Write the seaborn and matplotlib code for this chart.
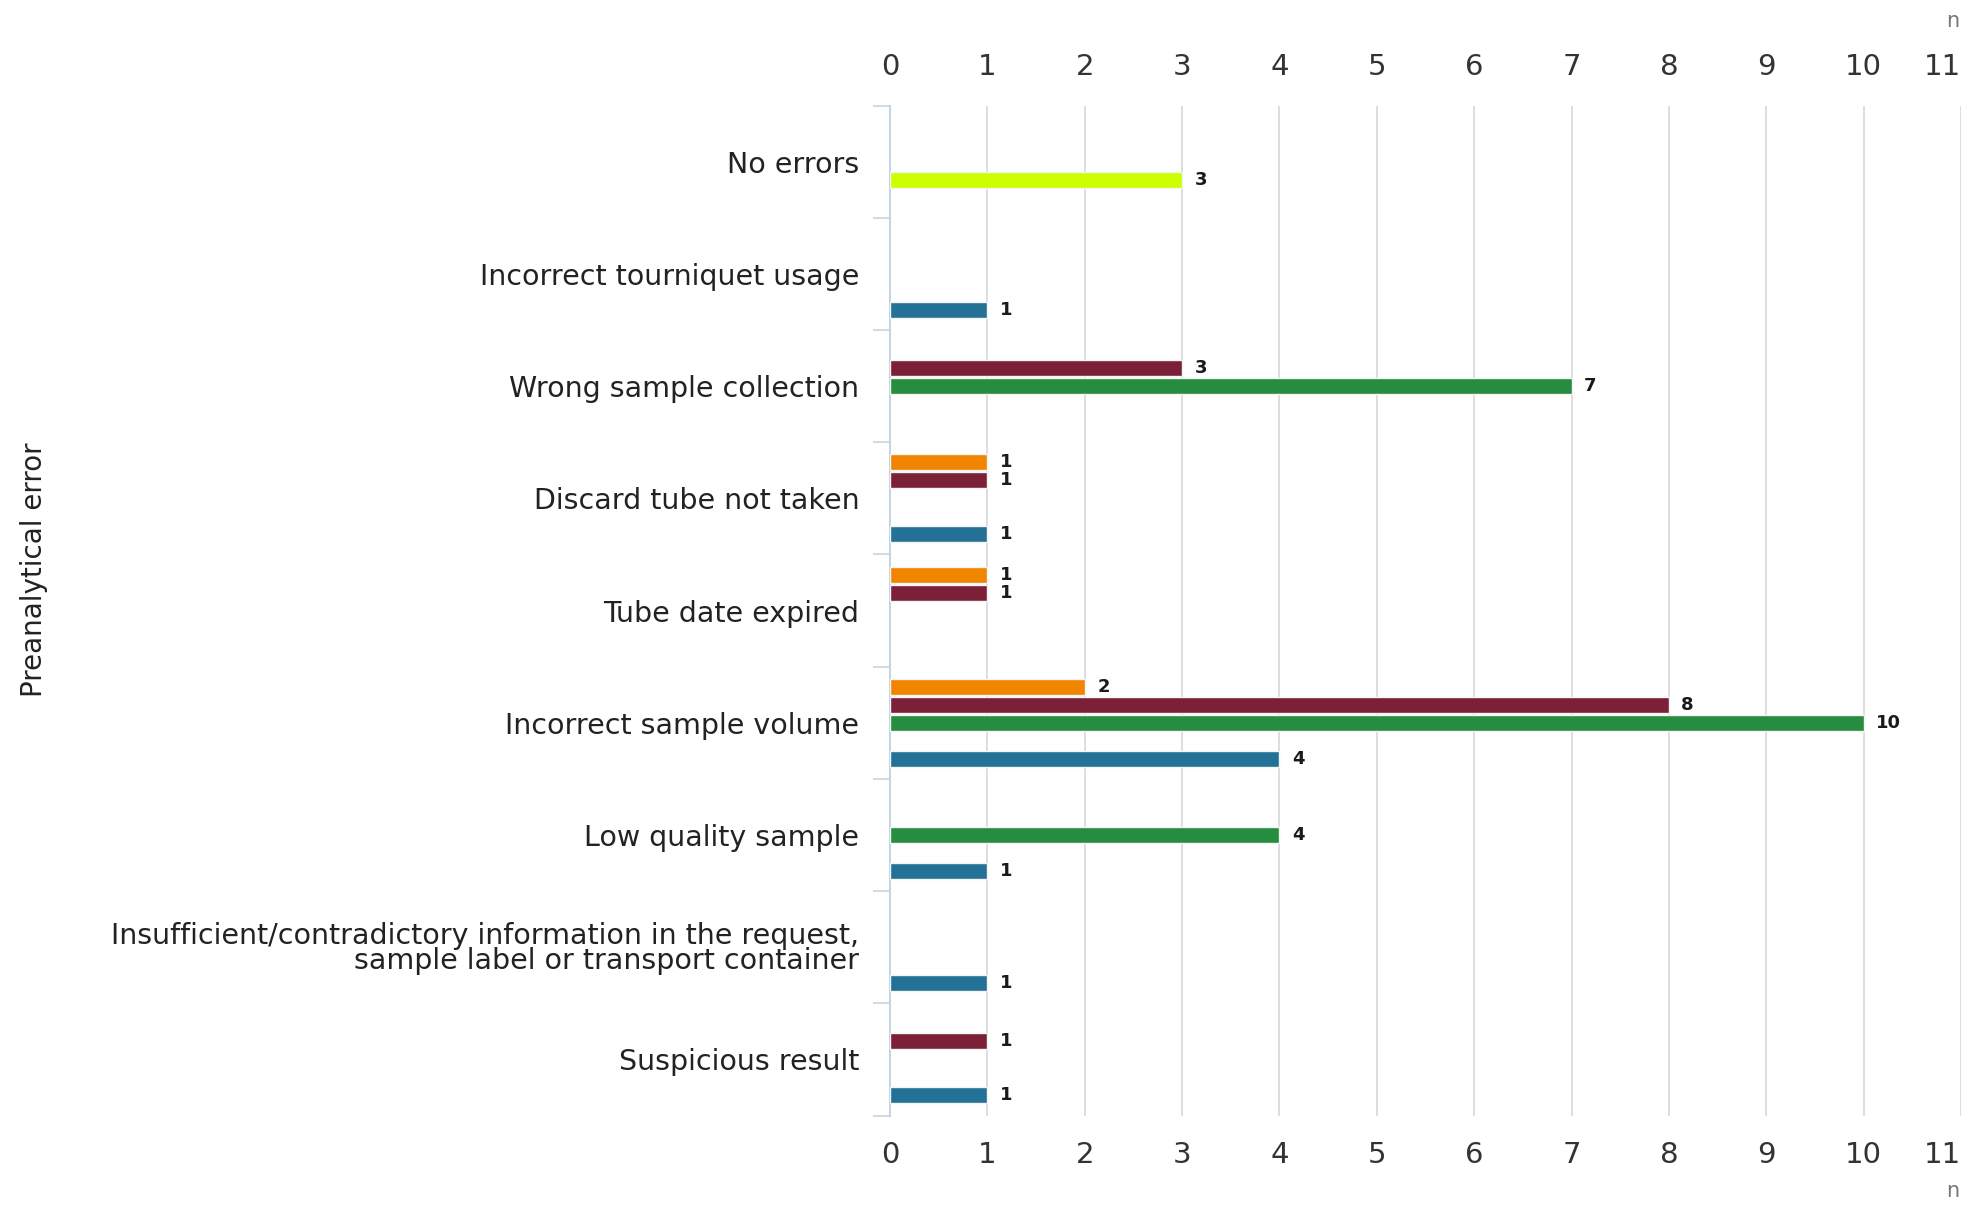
import matplotlib
matplotlib.use("Agg")
import matplotlib.pyplot as plt
import seaborn as sns
import pandas as pd

# categories (top to bottom)
categories = [
    "No errors",
    "Incorrect tourniquet usage",
    "Wrong sample collection",
    "Discard tube not taken",
    "Tube date expired",
    "Incorrect sample volume",
    "Low quality sample",
    "Insufficient/contradictory information in the request,\nsample label or transport container",
    "Suspicious result",
]

# series in dodge order (top slot first); None = no bar
series_names = ["Series 1", "Series 2", "Series 3", "Series 4", "Series 5"]
orange_vals = [None, None, None, 1, 1, 2, None, None, None]
maroon_vals = [None, None, 3, 1, 1, 8, None, None, 1]
green_vals = [None, None, 7, None, None, 10, 4, None, None]
lime_vals = [3, None, None, None, None, None, None, None, None]
blue_vals = [None, 1, None, 1, None, 4, 1, 1, 1]

series_colors = ["#f28500", "#7c2038", "#268c3f", "#ccff00", "#247197"]

rows = []
for name, vals in zip(series_names, [orange_vals, maroon_vals, green_vals, lime_vals, blue_vals]):
    for cat, v in zip(categories, vals):
        if v is not None:
            rows.append({"error": cat, "series": name, "n": v})
df = pd.DataFrame(rows)

sns.set_style("white")
plt.rcParams["font.family"] = ["DejaVu Sans"]

fig = plt.figure(figsize=(19.72, 12.07), dpi=100)
ax = fig.add_axes([0.4513, 0.0758, 0.5431, 0.8367])

sns.barplot(data=df, x="n", y="error", hue="series", order=categories,
            hue_order=series_names, palette=dict(zip(series_names, series_colors)),
            saturation=1, orient="h", width=0.8, gap=0.11, edgecolor="#f4f4f4",
            linewidth=1, legend=False, ax=ax, zorder=3)

# value labels next to the bars
for cont in ax.containers:
    ax.bar_label(cont, fmt="%d", padding=9, fontsize=13, fontweight="bold", color="#1a1a1a")

ax.set_xlim(0, 11)
ax.set_ylim(len(categories) - 0.5, -0.5)
ax.set_xticks(range(0, 12))
ax.grid(axis="x", color="#d8d8d8", linewidth=1.2, zorder=0)
ax.grid(axis="y", visible=False)
ax.tick_params(axis="x", which="both", top=True, bottom=True, labeltop=True, labelbottom=True,
               length=0, labelsize=21, labelcolor="#333333")
for t in ax.xaxis.get_major_ticks():
    t.set_pad(18)
    t.label2.set_va("bottom")
last = ax.xaxis.get_major_ticks()[-1]
last.label1.set_ha("right")
last.label2.set_ha("right")

# category boundary marks on the left spine
ax.set_yticks([i - 0.5 for i in range(len(categories) + 1)], minor=True)
ax.tick_params(axis="y", which="minor", length=12, width=1.2, color="#c5d5e6", left=True)
ax.tick_params(axis="y", which="major", length=0, labelsize=20.5, labelcolor="#222222", pad=22)
ax.set_yticklabels(categories, linespacing=0.85)

for s in ["top", "right", "bottom"]:
    ax.spines[s].set_visible(False)
ax.spines["left"].set_color("#c5d5e6")
ax.spines["left"].set_linewidth(1.5)

ax.set_xlabel("")
ax.set_ylabel("Preanalytical error", fontsize=20, color="#222222")
ax.yaxis.set_label_coords(-0.786, 0.54)

fig.text(0.990, 0.983, "n", fontsize=15, color="#777777", ha="center", va="center")
fig.text(0.990, 0.013, "n", fontsize=15, color="#777777", ha="center", va="center")

fig.savefig("out.png", dpi=100)
